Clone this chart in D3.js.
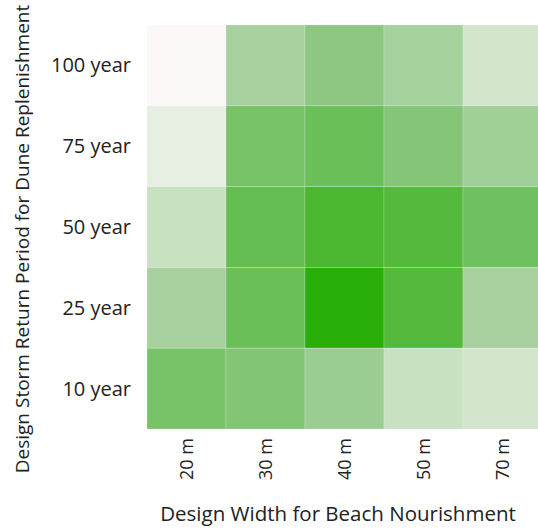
<!DOCTYPE html>
<html>
<head>
<meta charset="utf-8">
<script src="https://cdn.jsdelivr.net/npm/d3@7"></script>
<style>
  html, body { margin: 0; padding: 0; background: #fff; }
  text { font-family: "Open Sans", sans-serif; fill: #222; }
</style>
</head>
<body>
<div id="chart"></div>
<script>
// Beach nourishment width (columns) and dune replenishment return period (rows)
const widths = ["20 m", "30 m", "40 m", "50 m", "70 m"];
const periods = ["100 year", "75 year", "50 year", "25 year", "10 year"];

// relative score per cell (0 = lightest, 100 = darkest)
const row100 = [0, 41, 53, 42, 20];
const row75 = [10, 63, 69, 57, 44];
const row50 = [25, 72, 85, 80, 67];
const row25 = [41, 69, 100, 80, 41];
const row10 = [63, 58, 46, 25, 20];
const scores = [row100, row75, row50, row25, row10];

const width = 538, height = 529;
const svg = d3.select("#chart").append("svg")
  .attr("width", width)
  .attr("height", height);

const x = d3.scaleBand().domain(widths).range([147, 542]);
const y = d3.scaleBand().domain(periods).range([25, 429]);

const color = d3.scaleLinear()
  .domain([0, 50, 100])
  .range(["#fcf8f8", "#93c98a", "#2aaf08"]);

const cells = [];
periods.forEach((p, i) => {
  widths.forEach((w, j) => cells.push({ p, w, v: scores[i][j] }));
});

svg.append("g").selectAll("rect")
  .data(cells)
  .enter().append("rect")
  .attr("x", d => x(d.w))
  .attr("y", d => y(d.p))
  .attr("width", x.bandwidth())
  .attr("height", y.bandwidth())
  .style("fill", d => color(d.v))
  .style("stroke", "#fff")
  .style("stroke-opacity", 0.25)
  .style("stroke-width", 0.8);

// row labels
svg.append("g").selectAll("text")
  .data(periods)
  .enter().append("text")
  .attr("x", 131)
  .attr("y", d => y(d) + y.bandwidth() / 2)
  .attr("dy", "0.35em")
  .style("text-anchor", "end")
  .style("font-size", "20px")
  .text(d => d);

// column labels, rotated
svg.append("g").selectAll("text")
  .data(widths)
  .enter().append("text")
  .attr("transform", d => `translate(${x(d) + x.bandwidth() / 2},480) rotate(-90)`)
  .attr("dy", "0.35em")
  .style("text-anchor", "start")
  .style("font-size", "18px")
  .text(d => d);

svg.append("text")
  .attr("x", 338)
  .attr("y", 521)
  .style("text-anchor", "middle")
  .style("font-size", "20.5px")
  .text("Design Width for Beach Nourishment");

svg.append("text")
  .attr("transform", "translate(29,239) rotate(-90)")
  .style("text-anchor", "middle")
  .style("font-size", "19px")
  .text("Design Storm Return Period for Dune Replenishment");
</script>
</body>
</html>
